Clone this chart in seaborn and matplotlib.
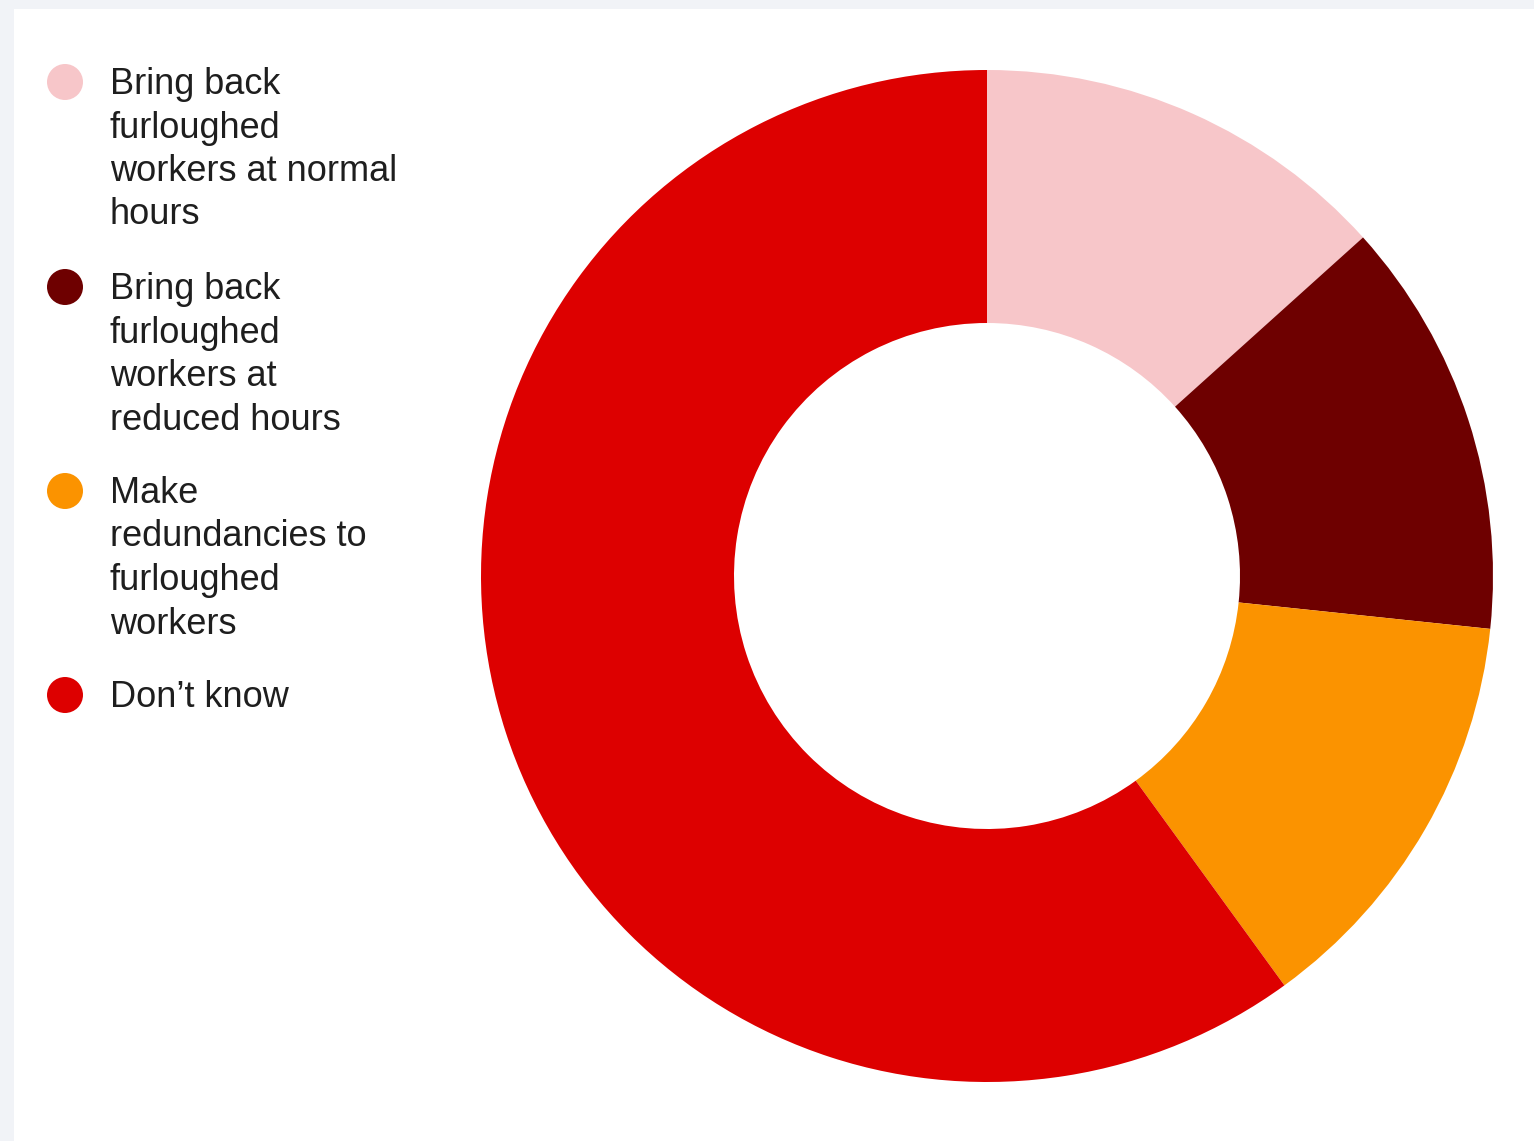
import matplotlib
matplotlib.use("Agg")
import matplotlib.pyplot as plt
from matplotlib.patches import Ellipse, Rectangle
import seaborn as sns

# Survey responses: plans for furloughed staff
categories = [
    "Bring back\nfurloughed\nworkers at normal\nhours",
    "Bring back\nfurloughed\nworkers at\nreduced hours",
    "Make\nredundancies to\nfurloughed\nworkers",
    "Don\u2019t know",
]
shares = [2, 2, 2, 9]
colors = ["#f7c6c9", "#6e0000", "#fb9300", "#dd0000"]

sns.set_theme(style="white")
plt.rcParams["font.family"] = ["Liberation Sans", "DejaVu Sans"]

W, H = 1534, 1141
fig = plt.figure(figsize=(W / 100, H / 100), dpi=100)
fig.patch.set_facecolor("#f1f3f7")

# white card behind everything
card = Rectangle((14 / W, 0), 1, 1 - 9 / H, transform=fig.transFigure,
                 facecolor="white", edgecolor="none", zorder=-10)
fig.add_artist(card)

# donut
cx, cy, r = 987, 576, 506
ax = fig.add_axes([(cx - r) / W, (H - cy - r) / H, 2 * r / W, 2 * r / H])
ax.set_zorder(5)
ax.set_facecolor("none")
ax.pie(shares, colors=colors, startangle=90, counterclock=False, radius=1,
       wedgeprops=dict(width=0.5, linewidth=0))
ax.set_xlim(-1, 1)
ax.set_ylim(-1, 1)
ax.set_aspect("equal")
ax.axis("off")

# legend
entry_y = [82, 287, 491, 695]
line_gap = 43.5
for lab, col, y0 in zip(categories, colors, entry_y):
    fig.add_artist(Ellipse((65 / W, 1 - y0 / H), 36 / W, 36 / H,
                           transform=fig.transFigure, facecolor=col,
                           edgecolor="none", zorder=2))
    for i, line in enumerate(lab.split("\n")):
        fig.text(110 / W, 1 - (y0 + 12 + i * line_gap) / H, line,
                 fontsize=26, color="#1e1e1e", va="baseline", ha="left")

fig.savefig("out.png", dpi=100, facecolor=fig.get_facecolor())
